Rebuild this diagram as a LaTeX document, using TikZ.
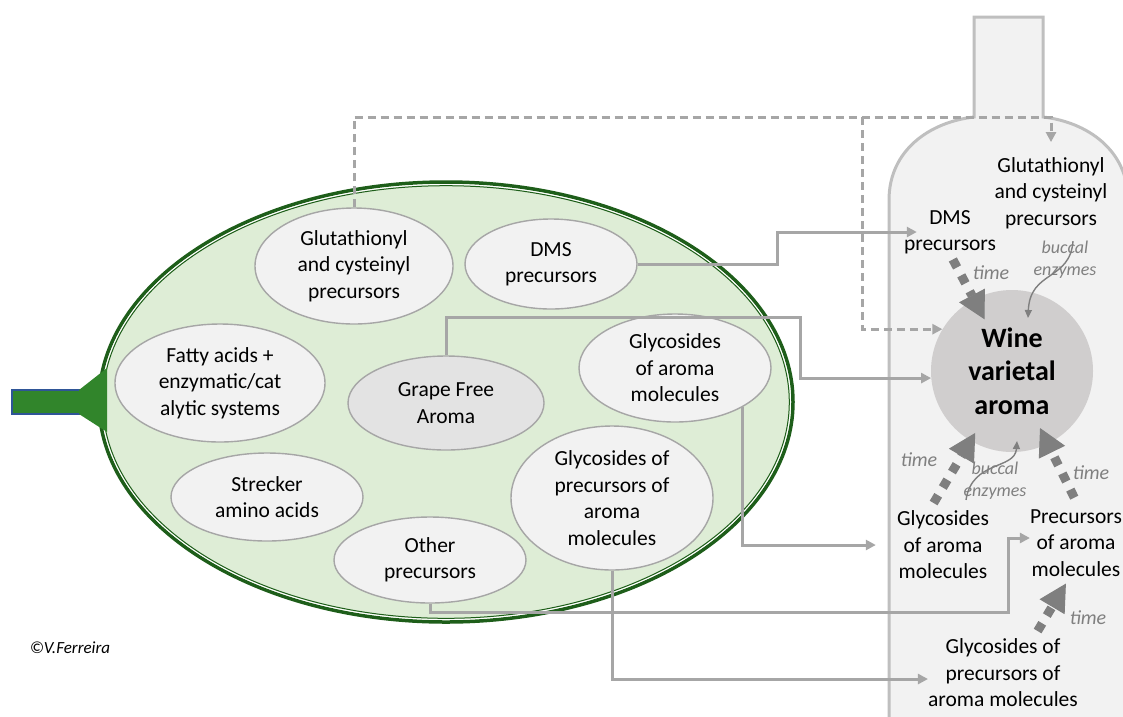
\documentclass[tikz,border=0pt]{standalone}
\usepackage{fontspec}
\setmainfont{Carlito}
\usetikzlibrary{arrows.meta,shapes.geometric}

\definecolor{leafdark}{RGB}{30,94,26}
\definecolor{leaflight}{RGB}{222,237,214}
\definecolor{leafgreen}{RGB}{49,133,43}
\definecolor{stemblue}{RGB}{47,85,151}
\definecolor{ovalfill}{RGB}{242,242,242}
\definecolor{ovalline}{RGB}{166,166,166}
\definecolor{grapefill}{RGB}{227,227,227}
\definecolor{linkgray}{RGB}{166,166,166}
\definecolor{bottleline}{RGB}{191,191,191}
\definecolor{winefill}{RGB}{208,206,206}
\definecolor{timegray}{RGB}{127,127,127}
\definecolor{notegray}{RGB}{128,128,128}

\newcommand\ovaltext{\fontsize{21.5}{26.5}\selectfont}
\newcommand\winetext{\fontsize{28}{33.5}\selectfont\bfseries}
\newcommand\notetext{\fontsize{20}{24}\selectfont\itshape}
\newcommand\enzytext{\fontsize{18}{22}\selectfont\itshape}

\begin{document}
\begin{tikzpicture}[x=1pt,y=-1pt,
    oval/.style={ellipse, draw=ovalline, line width=1.4pt, fill=ovalfill, inner sep=0pt, align=center, font=\ovaltext},
    bottletxt/.style={inner sep=0pt, align=center, font=\ovaltext},
    timelbl/.style={inner sep=0pt, text=notegray, font=\notetext},
    enzlbl/.style={inner sep=0pt, align=center, text=notegray, font=\enzytext},
    link/.style={draw=linkgray, line width=3pt, -{Triangle[length=10pt,width=10pt]}},
    dlink/.style={link, dash pattern=on 8pt off 5pt},
    timearrow/.style={draw=timegray, line width=9pt, dash pattern=on 9pt off 9pt, -{Triangle[length=27pt,width=29pt,line width=1pt]}},
    enzarrow/.style={draw=timegray, line width=1.4pt, -{Triangle[length=8pt,width=7pt]}}]

  \useasboundingbox (0,0) rectangle (1123,716);
  \clip (0,0) rectangle (1123,716);

  % bottle
  \filldraw[fill=ovalfill, draw=bottleline, line width=3pt] (889,730) -- (889,200)
    .. controls (889,150) and (930,122) .. (974,117) -- (974,17) -- (1043,17) -- (1043,117)
    .. controls (1087,122) and (1128,150) .. (1128,200) -- (1128,730) -- cycle;

  % grape berry
  \draw[fill=leaflight, draw=leafdark, line width=3.5pt] (446,402) ellipse [x radius=347pt, y radius=220pt];
  \draw[white, line width=1pt] (446,402) ellipse [x radius=344.5pt, y radius=217.5pt];
  \draw[leafdark, line width=1pt] (446,402) ellipse [x radius=343.3pt, y radius=216.3pt];
  \filldraw[fill=leafgreen, draw=stemblue, line width=1.5pt] (12,390) rectangle (80,414);
  \fill[leafgreen] (79,390) -- (107,368) -- (107,432) -- (79,414) -- cycle;

  \node[oval, minimum width=198pt, minimum height=116pt] (glut) at (354,266) {Glutathionyl\\and cysteinyl\\precursors};
  \node[oval, minimum width=172pt, minimum height=90pt] (dms) at (551,264) {DMS\\precursors};
  \node[oval, minimum width=210pt, minimum height=118pt] (fatty) at (220,383) {Fatty acids +\\enzymatic/cat\\alytic systems};
  \node[oval, fill=grapefill, minimum width=196pt, minimum height=94pt] (grape) at (446,403) {Grape Free\\Aroma};
  \node[oval, minimum width=192pt, minimum height=108pt] (glyarom) at (675,368) {Glycosides\\of aroma\\molecules};
  \node[oval, minimum width=192pt, minimum height=88pt] (strecker) at (267,497) {Strecker\\amino acids};
  \node[oval, minimum width=192pt, minimum height=86pt] (other) at (430,560) {Other\\precursors};
  \node[oval, minimum width=202pt, minimum height=144pt] (glyprec) at (612,498) {Glycosides of\\precursors of\\aroma\\molecules};

  % wine
  \node[circle, fill=winefill, minimum size=162pt, inner sep=0pt, align=center, font=\winetext] (wine) at (1012,371) {Wine\\varietal\\aroma};

  \node[bottletxt] (bglut) at (1051,193) {Glutathionyl\\and cysteinyl\\precursors};
  \node[bottletxt] (bdms) at (950,232) {DMS\\precursors};
  \node[bottletxt] (bglyarom) at (943,545) {Glycosides\\of aroma\\molecules};
  \node[bottletxt] (bprec) at (1076,543) {Precursors\\of aroma\\molecules};
  \node[bottletxt] (bglyprec) at (1003,673) {Glycosides of\\precursors of\\aroma molecules};

  \node[timelbl] (tdms) at (991,273) {time};
  \node[timelbl] (tglyarom) at (919,460) {time};
  \node[timelbl] (tprec) at (1091,473) {time};
  \node[timelbl] (tglyprec) at (1088,618) {time};
  \node[enzlbl] (enzup) at (1065,260) {buccal\\enzymes};
  \node[enzlbl] (enzlow) at (995,481) {buccal\\enzymes};
  \node[inner sep=0pt, font=\fontsize{17}{20}\selectfont\itshape] (sign) at (70,648) {©V.Ferreira};

  % connectors
  \coordinate (split) at (862,117);
  \draw[dlink] (glut.north) |- (split) -| ([yshift=15pt]bglut.north);
  \draw[dlink] (split) |- (wine.149);
  \draw[link] (dms.east) -- ++(140,0) |- ([xshift=13pt]bdms.west);
  \draw[link] (grape.north) |- (800,317) |- (wine.185);
  \draw[link] (glyarom.-30) |- ([xshift=-21pt]bglyarom.west);
  \draw[link] (other.south) |- (1008,612) |- ([yshift=5pt]bprec.west);
  \draw[link] (glyprec.south) |- ([yshift=-6pt]bglyprec.west);

  \draw[timearrow, shorten <=6pt, shorten >=58.5pt] (bdms.south) -- (wine.center);
  \draw[timearrow, shorten <=9pt, shorten >=72pt] ([xshift=-14pt]bglyarom.north) -- (wine.center);
  \draw[timearrow, shorten <=13pt, shorten >=63.5pt] ([xshift=4pt]bprec.north) -- (wine.center);
  \draw[timearrow, shorten <=9pt, shorten >=8pt] ([xshift=30pt]bglyprec.north) -- ([xshift=-6pt]bprec.south);

  \draw[enzarrow] ([xshift=8pt]enzup.north) .. controls +(-3,40) and +(2,-48) .. ([shift={(16,-53)}]wine.center);
  \draw[enzarrow] ([xshift=-29pt]enzlow.south) .. controls +(6,-40) and +(-2,29) .. ([shift={(5,70)}]wine.center);
\end{tikzpicture}
\end{document}
